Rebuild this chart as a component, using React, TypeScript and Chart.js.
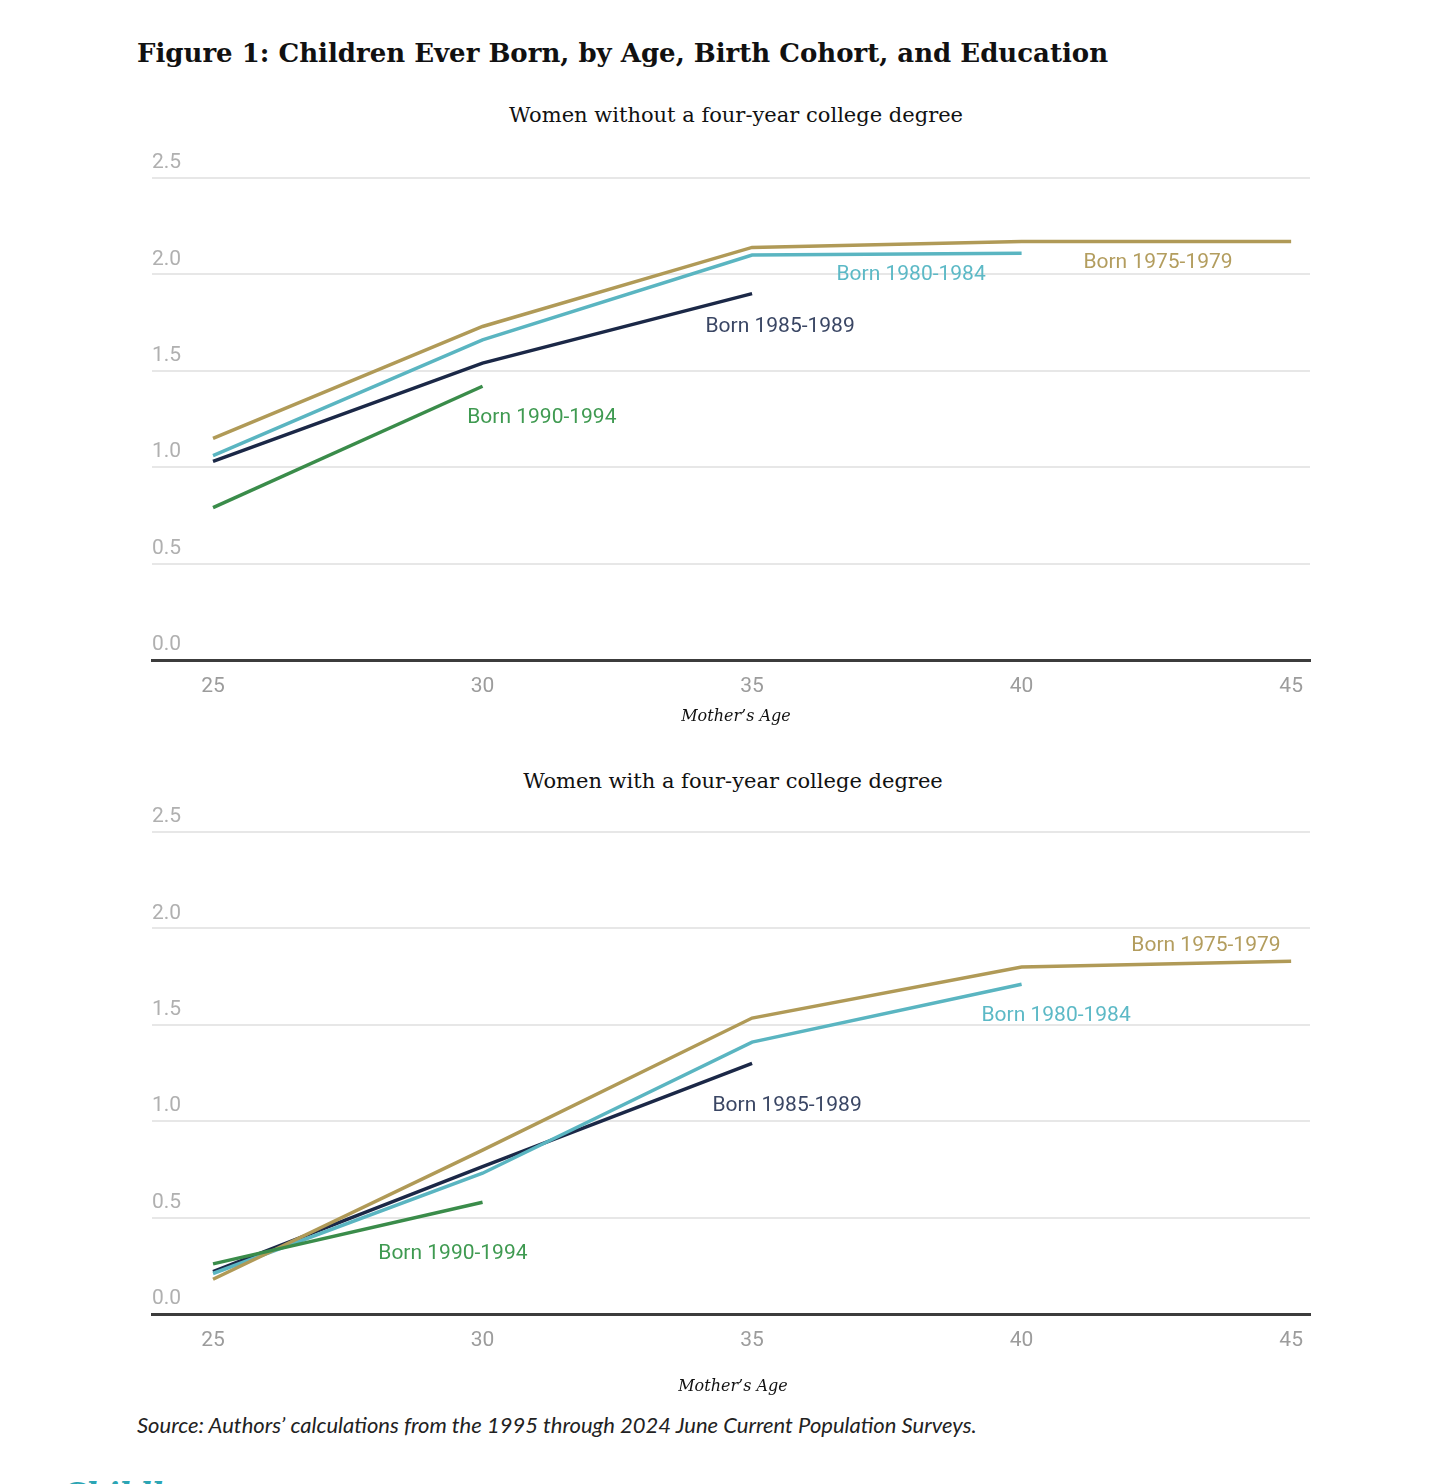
import React, { useEffect, useRef } from 'react';
import { Chart, registerables } from 'chart.js';

Chart.register(...registerables);

// ---- data ----
const ages = [25, 30, 35, 40, 45];
const xTickValues = [25, 30, 35, 40, 45];
const yTickValues = [0, 0.5, 1, 1.5, 2, 2.5];
const cohorts = ['Born 1975-1979', 'Born 1980-1984', 'Born 1985-1989', 'Born 1990-1994'];

// Women without a four-year college degree
const noDegree1975 = [1.15, 1.73, 2.14, 2.17, 2.17];
const noDegree1980 = [1.06, 1.66, 2.1, 2.11];
const noDegree1985 = [1.03, 1.54, 1.9];
const noDegree1990 = [0.79, 1.42];

// Women with a four-year college degree
const degree1975 = [0.18, 0.85, 1.535, 1.8, 1.83];
const degree1980 = [0.21, 0.73, 1.41, 1.71];
const degree1985 = [0.22, 0.765, 1.3];
const degree1990 = [0.26, 0.58];

// label anchors (data coordinates: age, children)
const topLabelAge = [42.53, 37.95, 35.52, 31.1];
const topLabelValue = [2.07, 2.007, 1.738, 1.266];
const bottomLabelAge = [43.42, 40.64, 35.65, 29.45];
const bottomLabelValue = [1.919, 1.556, 1.089, 0.322];

// ---- styles ----
const lineColors = ['#b09a57', '#5ab5c1', '#1b2847', '#3a8c4a'];
const labelColors = ['#b39d5e', '#5cb9c6', '#3a4664', '#3f9a51'];

const labelPlugin = {
  id: 'cohortLabels',
  afterDatasetsDraw(chart: any, _args: any, opts: any) {
    const { ctx } = chart;
    const x = chart.scales.x;
    const y = chart.scales.y;
    ctx.save();
    ctx.font = '21px Roboto';
    ctx.textAlign = 'center';
    ctx.textBaseline = 'middle';
    opts.ages.forEach((a: number, i: number) => {
      ctx.fillStyle = labelColors[i];
      ctx.fillText(cohorts[i], x.getPixelForValue(a), y.getPixelForValue(opts.values[i]) + 2);
    });
    ctx.restore();
  },
};

function makeConfig(series: number[][], labelAges: number[], labelValues: number[], padTop: number, padBottom: number): any {
  const drawOrder = [3, 0, 1, 2];
  return {
    type: 'line',
    data: {
      datasets: drawOrder.map((i) => ({
        label: cohorts[i],
        data: series[i].map((v, j) => ({ x: ages[j], y: v })),
        borderColor: lineColors[i],
        backgroundColor: lineColors[i],
        borderWidth: 3.5,
        pointRadius: 0,
        tension: 0,
        fill: false,
      })),
    },
    options: {
      animation: false,
      responsive: false,
      layout: { padding: { left: 152, right: 132, top: padTop, bottom: padBottom } },
      plugins: {
        legend: { display: false },
        tooltip: { enabled: false },
        cohortLabels: { ages: labelAges, values: labelValues },
      },
      scales: {
        x: {
          type: 'linear',
          min: 23.868,
          max: 45.35,
          afterBuildTicks: (s: any) => {
            s.ticks = xTickValues.map((v) => ({ value: v }));
          },
          afterFit: (s: any) => {
            s.height = 40;
          },
          grid: { display: false, drawTicks: false },
          border: { display: true, color: '#3c3c3c', width: 3 },
          ticks: {
            color: '#9c9c9c',
            font: { family: 'Roboto', size: 21 },
            padding: 14,
            autoSkip: false,
            maxRotation: 0,
            callback: (v: any) => String(v),
          },
        },
        y: {
          type: 'linear',
          min: 0,
          max: 2.5,
          afterBuildTicks: (s: any) => {
            s.ticks = yTickValues.map((v) => ({ value: v }));
          },
          afterFit: (s: any) => {
            s.width = 0;
          },
          grid: { color: '#e7e7e7', lineWidth: 2, drawTicks: false },
          border: { display: false },
          ticks: {
            mirror: true,
            padding: 0,
            labelOffset: -15,
            color: '#b0b0b0',
            font: { family: 'Roboto', size: 21 },
            callback: (v: any) => Number(v).toFixed(1),
          },
        },
      },
    },
    plugins: [labelPlugin],
  };
}

function LineChart(props: { series: number[][]; labelAges: number[]; labelValues: number[]; top: number; height: number; padTop: number; padBottom: number }) {
  const ref = useRef<HTMLCanvasElement>(null);
  useEffect(() => {
    if (!ref.current) return;
    const chart = new Chart(ref.current, makeConfig(props.series, props.labelAges, props.labelValues, props.padTop, props.padBottom));
    return () => chart.destroy();
  }, []);
  return (
    <canvas
      ref={ref}
      width={1442}
      height={props.height}
      style={{ position: 'absolute', left: 0, top: props.top, width: 1442, height: props.height }}
    />
  );
}

function Text(props: { cx?: number; left?: number; cy: number; size: number; family: string; weight?: number; italic?: boolean; color?: string; children: any }) {
  const lh = Math.round(props.size * 1.4);
  const style: any = {
    position: 'absolute',
    top: props.cy - lh / 2,
    lineHeight: lh + 'px',
    fontSize: props.size,
    fontFamily: props.family,
    fontWeight: props.weight || 400,
    fontStyle: props.italic ? 'italic' : 'normal',
    color: props.color || '#111',
    whiteSpace: 'nowrap',
  };
  if (props.cx !== undefined) {
    style.left = props.cx - 500;
    style.width = 1000;
    style.textAlign = 'center';
  } else {
    style.left = props.left;
  }
  return <div style={style}>{props.children}</div>;
}

export default function App() {
  return (
    <div style={{ position: 'absolute', left: 0, top: 0, width: 1442, height: 1484, background: '#fff', overflow: 'hidden' }}>
      <Text left={137} cy={53} size={26} family="'DejaVu Serif', serif" weight={700}>
        Figure 1: Children Ever Born, by Age, Birth Cohort, and Education
      </Text>
      <Text cx={736} cy={115} size={21} family="'DejaVu Serif', serif">
        Women without a four-year college degree
      </Text>
      <LineChart
        series={[noDegree1975, noDegree1980, noDegree1985, noDegree1990]}
        labelAges={topLabelAge}
        labelValues={topLabelValue}
        top={0}
        height={740}
        padTop={178}
        padBottom={40}
      />
      <Text cx={736} cy={716} size={16} family="'DejaVu Serif', serif" italic>
        Mother’s Age
      </Text>
      <Text cx={733} cy={781} size={21} family="'DejaVu Serif', serif">
        Women with a four-year college degree
      </Text>
      <LineChart
        series={[degree1975, degree1980, degree1985, degree1990]}
        labelAges={bottomLabelAge}
        labelValues={bottomLabelValue}
        top={760}
        height={620}
        padTop={72}
        padBottom={26}
      />
      <Text cx={733} cy={1386} size={16} family="'DejaVu Serif', serif" italic>
        Mother’s Age
      </Text>
      <Text left={137} cy={1424} size={22} family="Lato, 'Open Sans', sans-serif" italic color="#222">
        Source: Authors’ calculations from the 1995 through 2024 June Current Population Surveys.
      </Text>
      <Text left={62} cy={1494} size={30} family="'DejaVu Serif', serif" weight={700} italic color="#2ba5b4">
        Childlessness
      </Text>
    </div>
  );
}
